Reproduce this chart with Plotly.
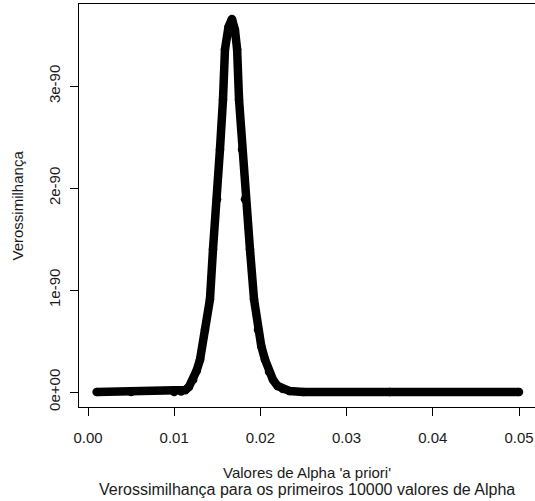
import plotly.graph_objects as go

# Values (alpha, likelihood)
alpha = [0.0010, 0.0050, 0.0100, 0.0108, 0.0113, 0.0117, 0.0122, 0.0126, 0.0130,
         0.01357, 0.01415, 0.01450, 0.01497, 0.01531, 0.01566, 0.01589, 0.01630,
         0.01670, 0.01705, 0.01730, 0.01752, 0.01787, 0.01821, 0.01879, 0.01926,
         0.01972, 0.02010, 0.02053, 0.02100, 0.02146, 0.02200, 0.02260, 0.02340,
         0.02500, 0.03500, 0.05000]
likelihood = [0.0, 0.0, 0.0, 0.005, 0.02, 0.05, 0.12, 0.21, 0.32,
              0.61, 0.91, 1.40, 1.89, 2.38, 2.87, 3.36, 3.58,
              3.66, 3.55, 3.36, 2.87, 2.38, 1.89, 1.40, 0.91,
              0.61, 0.45, 0.32, 0.20, 0.12, 0.06, 0.03, 0.01,
              0.0, 0.0, 0.0]
likelihood = [v * 1e-90 for v in likelihood]

x_ticks = [0.00, 0.01, 0.02, 0.03, 0.04, 0.05]
x_tick_labels = ["0.00", "0.01", "0.02", "0.03", "0.04", "0.05"]
y_ticks = [0.0, 1e-90, 2e-90, 3e-90]
y_tick_labels = ["0e+00", "1e-90", "2e-90", "3e-90"]

FONT = "Liberation Sans, Arial, sans-serif"
TXT = "#1a1a1a"

fig = go.Figure()
fig.add_trace(go.Scatter(
    x=alpha, y=likelihood, mode="lines+markers",
    line=dict(color="black", width=8.5),
    marker=dict(color="black", size=8.5),
    showlegend=False, hoverinfo="skip",
))

fig.update_layout(
    width=535, height=501,
    margin=dict(l=79, r=0, t=4, b=94),
    plot_bgcolor="white", paper_bgcolor="white",
    font=dict(family=FONT, size=15, color=TXT),
    xaxis=dict(
        range=[-0.001044, 0.051856],
        tickmode="array", tickvals=x_ticks, ticktext=x_tick_labels,
        ticks="outside", ticklen=8, tickcolor="black", tickwidth=1,
        ticklabelstandoff=9,
        showline=True, linecolor="black", linewidth=1, mirror=True,
        showgrid=False, zeroline=False,
        tickfont=dict(family=FONT, size=15, color=TXT),
    ),
    yaxis=dict(
        range=[-0.1464e-90, 3.806e-90],
        tickmode="array", tickvals=y_ticks, ticktext=y_tick_labels,
        ticks="outside", ticklen=8, tickcolor="black", tickwidth=1,
        tickangle=-90, ticklabelstandoff=4,
        showline=True, linecolor="black", linewidth=1, mirror=False,
        showgrid=False, zeroline=False,
        tickfont=dict(family=FONT, size=15, color=TXT),
    ),
    annotations=[
        dict(text="Valores de Alpha 'a priori'", xref="paper", yref="paper",
             x=0.5, y=0, xanchor="center", yanchor="middle", yshift=-65,
             showarrow=False, font=dict(family=FONT, size=15, color=TXT)),
        dict(text="Verossimilhança para os primeiros 10000 valores de Alpha",
             xref="paper", yref="paper",
             x=0.5, y=0, xanchor="center", yanchor="middle", yshift=-82,
             showarrow=False, font=dict(family=FONT, size=16, color=TXT)),
        dict(text="Verossimilhança", xref="paper", yref="paper",
             x=0, y=0.5, xanchor="center", yanchor="middle", xshift=-62,
             textangle=-90, showarrow=False,
             font=dict(family=FONT, size=15, color=TXT)),
    ],
)

fig.write_html("out.html")
